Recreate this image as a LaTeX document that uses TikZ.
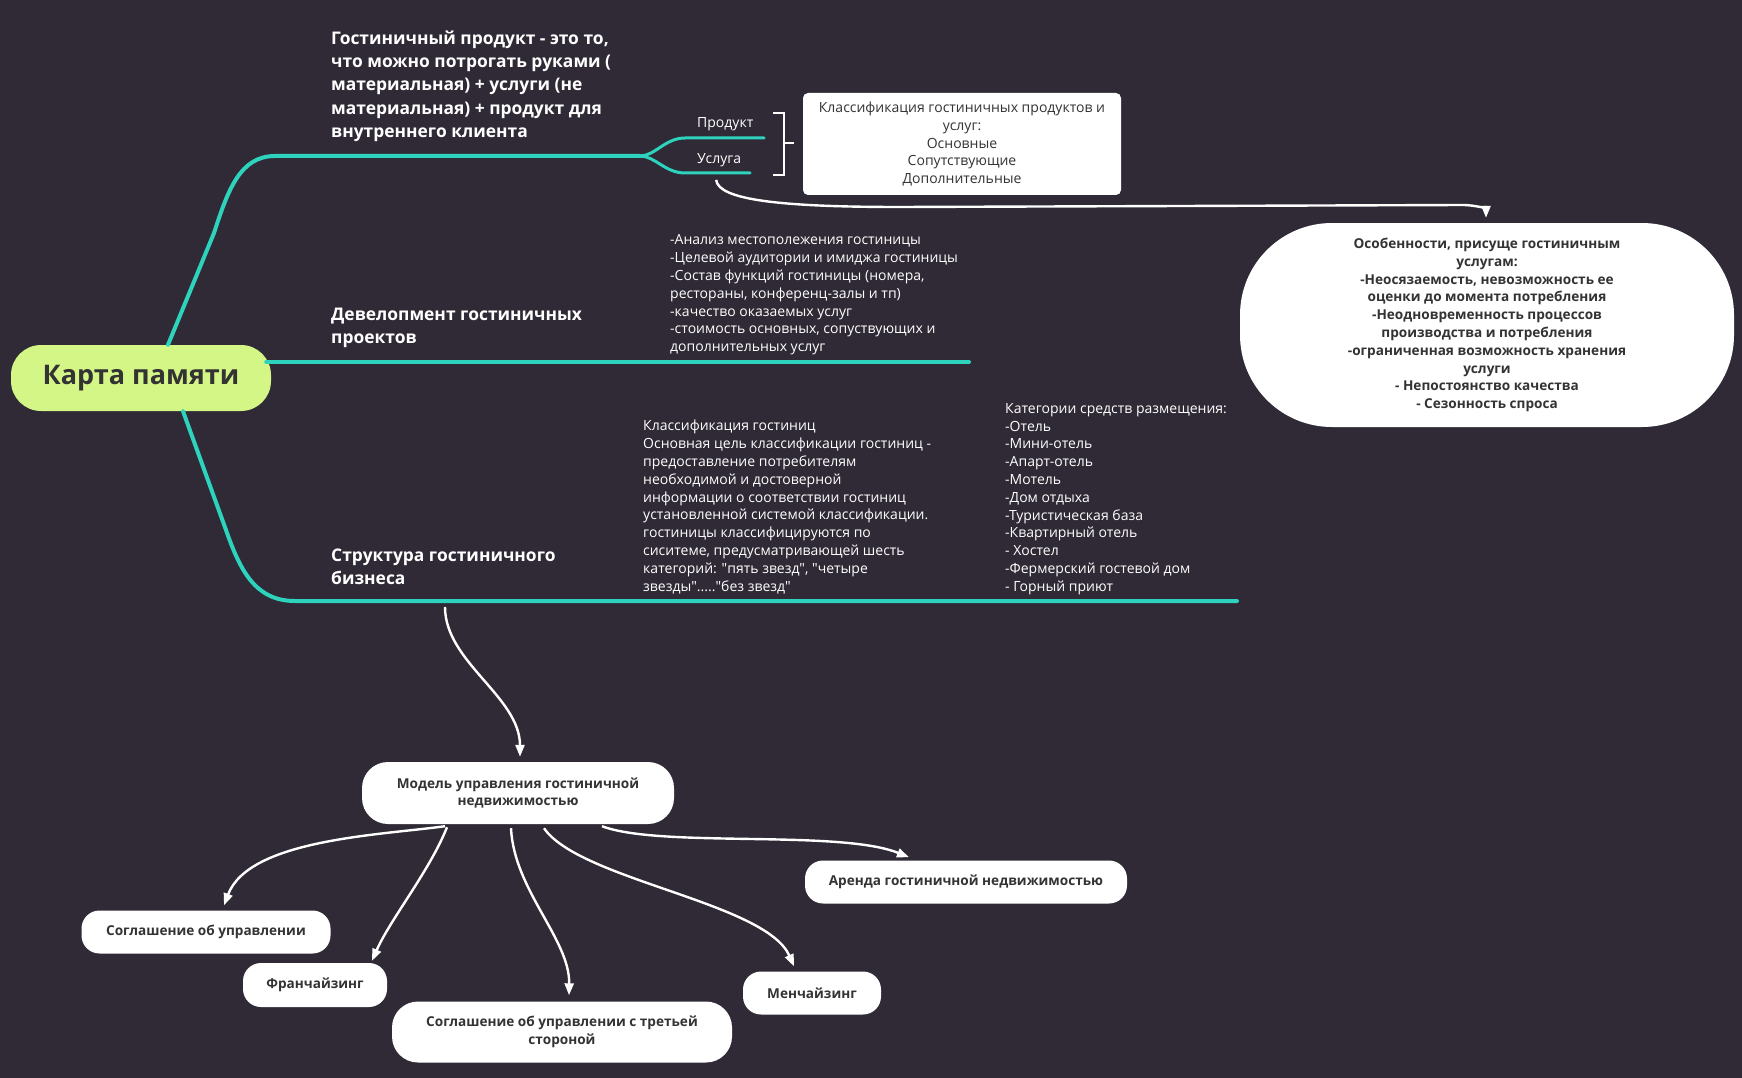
\documentclass[tikz,border=0pt]{standalone}
\usepackage{fontspec}
\setmainfont{Open Sans}[Ligatures=TeXOff]
\usetikzlibrary{arrows.meta,positioning,calc}

\definecolor{bgdark}{RGB}{47,42,53}
\definecolor{mapteal}{RGB}{45,211,188}
\definecolor{rootgreen}{RGB}{212,246,135}
\definecolor{inkgray}{RGB}{51,51,51}

\newcommand\bodyfont{\fontsize{14}{17.8}\selectfont}
\newcommand\leaffont{\fontsize{13.6}{17.8}\selectfont\bfseries}
\newcommand\labelfont{\fontsize{17.4}{23.3}\selectfont\bfseries}

\begin{document}
\begin{tikzpicture}[x=1pt,y=-1pt,
  branch/.style={mapteal,line width=4pt,line cap=round},
  twig/.style={mapteal,line width=3pt,line cap=round},
  link/.style={white,line width=2.4pt,-{Triangle[length=12pt,width=9pt]}},
  lbl/.style={white,font=\labelfont,align=left,anchor=west,inner sep=0pt},
  txt/.style={white,font=\bodyfont,align=left,anchor=west,inner sep=0pt},
  leaf/.style={fill=white,text=inkgray,rounded corners=18pt,font=\leaffont,
               align=center,inner sep=0pt}]
%% canvas
\fill[bgdark] (0,0) rectangle (1742,1078);
\useasboundingbox (0,0) rectangle (1742,1078);

%% root
\node[fill=rootgreen,text=inkgray,rounded corners=30pt,minimum width=260pt,
      minimum height=66pt,font=\fontsize{27}{32}\selectfont\bfseries]
  (root) at (141,378) {Карта памяти};

%% branch labels
\node[lbl] (prod) at (331,86) {Гостиничный продукт - это то,\\
  что можно потрогать руками (\\ материальная) + услуги (не\\
  материальная) + продукт для\\ внутреннего клиента};
\node[lbl] (devel) at (331,328) {Девелопмент гостиничных\\ проектов};
\node[lbl] (struct) at (331,567) {Структура гостиничного\\ бизнеса};

\coordinate (b1) at (640,156);
\coordinate (b3) at (445,601);

%% teal branches
\draw[branch] ($(root.north)+(27,0)$) -- (214,233)
  .. controls (228,190) and (240,156) .. (275,156) -- (b1);
\draw[branch] ($(root.east)+(-5,-16)$) -- (969,362);
\draw[branch] ($(root.south)+(42,0)$) -- (226,530)
  .. controls (240,570) and (255,601) .. (295,601) -- (1237,601);
\draw[twig] (b1) .. controls (655,156) and (665,138) .. (685,138) -- (764,138);
\draw[twig] (b1) .. controls (655,156) and (665,173) .. (685,173) -- (750,173);

%% product / service
\node[white,font=\bodyfont,inner sep=0pt,anchor=west] (prd) at (697,124) {Продукт};
\node[white,font=\bodyfont,inner sep=0pt,anchor=west] (usl) at (697,160) {Услуга};
\draw[white,line width=1.5pt] (773,113) -- (784,113) -- (784,175) -- (773,175)
  (784,143) -- (794,143);
\node[fill=white,text=inkgray,rounded corners=5pt,minimum width=318pt,
      minimum height=102pt,font=\bodyfont,align=center,inner sep=0pt]
  (klass) at (962,144) {Классификация гостиничных продуктов и\\ услуг:\\
  Основные\\ Сопутствующие\\ Дополнительные};

%% features of services
\node[leaf,rounded corners=92pt,minimum width=494pt,minimum height=204pt]
  (feat) at (1487,325) {Особенности, присуще гостиничным\\ услугам:\\
  -Неосязаемость, невозможность ее\\ оценки до момента потребления\\
  -Неодновременность процессов\\ производства и потребления\\
  -ограниченная возможность хранения\\ услуги\\
  - Непостоянство качества\\ - Сезонность спроса};
\draw[link] ($(usl.south)+(-3,13)$) .. controls +(2,20) and +(-120,0) .. (900,207)
  -- (1462,205) .. controls +(16,0) and +(0,-8) .. ($(feat.north)+(-1,-5)$);

%% development notes
\node[txt] (devnote) at (670,295) {-Анализ местополежения гостиницы\\
  -Целевой аудитории и имиджа гостиницы\\
  -Состав функций гостиницы (номера,\\ рестораны, конференц-залы и тп)\\
  -качество оказаемых услуг\\ -стоимость основных, сопуствующих и\\
  дополнительных услуг};

%% structure notes
\node[txt] (classnote) at (643,507) {Классификация гостиниц\\
  Основная цель классификации гостиниц -\\ предоставление потребителям\\
  необходимой и достоверной\\ информации о соответствии гостиниц\\
  установленной системой классификации.\\ гостиницы классифицируются по\\
  сиситеме, предусматривающей шесть\\ категорий: "пять звезд", "четыре\\
  звезды"....."без звезд"};
\node[txt] (catnote) at (1005,499) {Категории средств размещения:\\ -Отель\\
  -Мини-отель\\ -Апарт-отель\\ -Мотель\\ -Дом отдыха\\ -Туристическая база\\
  -Квартирный отель\\ - Хостел\\ -Фермерский гостевой дом\\ - Горный приют};

%% management models
\node[leaf,rounded corners=26pt,minimum width=312pt,minimum height=62pt]
  (model) at (518,793) {Модель управления гостиничной\\ недвижимостью};
\node[leaf,minimum width=249pt,minimum height=43pt] (mgmt) at (206,932)
  {Соглашение об управлении};
\node[leaf,minimum width=144pt,minimum height=44pt] (franch) at (315,985)
  {Франчайзинг};
\node[leaf,rounded corners=26pt,minimum width=340pt,minimum height=61pt]
  (third) at (562,1032) {Соглашение об управлении с третьей\\ стороной};
\node[leaf,minimum width=138pt,minimum height=43pt] (mench) at (812,993)
  {Менчайзинг};
\node[leaf,minimum width=322pt,minimum height=43pt] (lease) at (966,882)
  {Аренда гостиничной недвижимостью};

\draw[link] ($(b3)+(0,6)$) .. controls +(0,55) and +(0,-60) .. ($(model.north)+(2,-5)$);
\draw[link] ($(model.south)+(-73,2)$) .. controls +(-65,9) and +(25,-66) .. ($(mgmt.north)+(18,-5)$);
\draw[link] ($(model.south)+(-71,3)$) .. controls +(-17,43) and +(18,-41) .. ($(franch.north)+(57,-2)$);
\draw[link] ($(model.south)+(-7,4)$) .. controls +(3,62) and +(1,-56) .. ($(third.north)+(7,-6)$);
\draw[link] ($(model.south)+(26,4)$) .. controls +(36,52) and +(-28,-64) .. ($(mench.north)+(-18,-5)$);
\draw[link] ($(model.south)+(84,2)$) .. controls +(58,22) and +(-69,-28) .. ($(lease.north)+(-57,-3)$);
\end{tikzpicture}
\end{document}
